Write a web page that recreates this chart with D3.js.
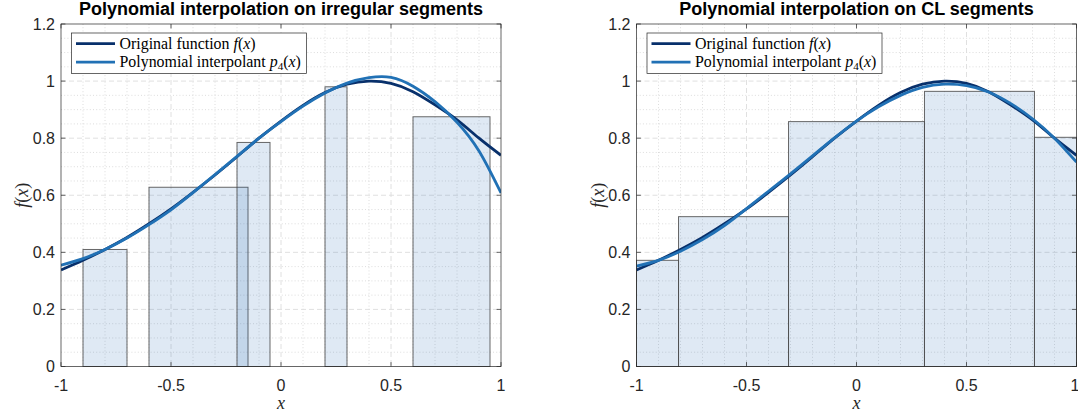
<!DOCTYPE html>
<html>
<head>
<meta charset="utf-8">
<script src="https://cdn.jsdelivr.net/npm/d3@7"></script>
<style>
  html, body { margin: 0; padding: 0; background: #fff; }
  svg { display: block; }
</style>
</head>
<body>
<svg id="fig" width="1078" height="413"></svg>
<script>
const xSamples = [-1, -0.9, -0.8, -0.7, -0.6, -0.5, -0.4, -0.3, -0.2, -0.1, 0,
  0.1, 0.2, 0.3, 0.4, 0.5, 0.6, 0.7, 0.8, 0.9, 1];
const fValues = [0.338, 0.372, 0.410, 0.452, 0.500, 0.552, 0.610, 0.671, 0.735, 0.800, 0.860,
  0.915, 0.960, 0.989, 1.000, 0.992, 0.963, 0.917, 0.864, 0.800, 0.740];
const p4Irregular = [0.355, 0.378, 0.410, 0.450, 0.497, 0.549, 0.609, 0.672, 0.736, 0.800, 0.858,
  0.912, 0.958, 0.993, 1.012, 1.013, 0.982, 0.928, 0.856, 0.755, 0.608];
const p4CL = [0.352, 0.372, 0.404, 0.445, 0.494, 0.553, 0.614, 0.675, 0.738, 0.801, 0.860,
  0.910, 0.950, 0.978, 0.989, 0.984, 0.962, 0.922, 0.868, 0.800, 0.716];

// segments (left/right edge) and bar heights
const irregularLeft = [-0.9, -0.6, -0.2, 0.2, 0.6];
const irregularRight = [-0.7, -0.15, -0.05, 0.3, 0.95];
const irregularHeights = [0.41, 0.628, 0.785, 0.98, 0.875];
const clNodes = [-1, -0.809, -0.309, 0.309, 0.809, 1];
const clHeights = [0.372, 0.525, 0.858, 0.964, 0.803];

const xTicks = [-1, -0.5, 0, 0.5, 1];
const xTickLabels = ['-1', '-0.5', '0', '0.5', '1'];
const yTicks = [0, 0.2, 0.4, 0.6, 0.8, 1, 1.2];
const yTickLabels = ['0', '0.2', '0.4', '0.6', '0.8', '1', '1.2'];

const titles = ['Polynomial interpolation on irregular segments',
  'Polynomial interpolation on CL segments'];

var axisColor = '#262626',
  fColor = '#08306b',
  pColor = '#2171b5',
  barFill = '#1a66b0',
  serif = '"Liberation Serif", "DejaVu Serif", serif',
  sans = '"Liberation Sans", Arial, sans-serif';

var svg = d3.select('#fig');

function panel(opts) {
  var margin = { left: opts.left, top: 24 },
    width = 440,
    height = 342.5;

  var x = d3.scaleLinear().domain([-1, 1]).range([0, width]);
  var y = d3.scaleLinear().domain([0, 1.2]).range([height, 0]);

  var g = svg.append('g')
    .attr('transform', 'translate(' + margin.left + ',' + margin.top + ')');

  var clipId = 'clip' + opts.id;
  g.append('clipPath').attr('id', clipId)
    .append('rect').attr('width', width).attr('height', height);

  // minor grid (dotted)
  var grid = g.append('g');
  grid.selectAll('line.xminor')
    .data(d3.range(-9, 10).map(function(i) { return i / 10; })
      .filter(function(v) { return Math.abs(v * 2 - Math.round(v * 2)) > 1e-6; }))
    .enter().append('line')
    .attr('x1', function(d) { return x(d); }).attr('x2', function(d) { return x(d); })
    .attr('y1', 0).attr('y2', height)
    .attr('stroke', '#d4d4d4').attr('stroke-width', 0.8)
    .attr('stroke-dasharray', '1,2.2');
  grid.selectAll('line.yminor')
    .data(d3.range(1, 24).map(function(i) { return i * 0.05; })
      .filter(function(v, i) { return (i + 1) % 4 !== 0; }))
    .enter().append('line')
    .attr('y1', function(d) { return y(d); }).attr('y2', function(d) { return y(d); })
    .attr('x1', 0).attr('x2', width)
    .attr('stroke', '#d4d4d4').attr('stroke-width', 0.8)
    .attr('stroke-dasharray', '1,2.2');

  // major grid (dashed)
  grid.selectAll('line.xmajor')
    .data(xTicks.slice(1, -1))
    .enter().append('line')
    .attr('x1', function(d) { return x(d); }).attr('x2', function(d) { return x(d); })
    .attr('y1', 0).attr('y2', height)
    .attr('stroke', '#dcdcdc').attr('stroke-width', 0.9)
    .attr('stroke-dasharray', '5,3');
  grid.selectAll('line.ymajor')
    .data(yTicks.slice(1, -1))
    .enter().append('line')
    .attr('y1', function(d) { return y(d); }).attr('y2', function(d) { return y(d); })
    .attr('x1', 0).attr('x2', width)
    .attr('stroke', '#dcdcdc').attr('stroke-width', 0.9)
    .attr('stroke-dasharray', '5,3');

  // bars
  g.append('g').selectAll('rect')
    .data(opts.bars)
    .enter().append('rect')
    .attr('x', function(d) { return x(d.x0); })
    .attr('width', function(d) { return x(d.x1) - x(d.x0); })
    .attr('y', function(d) { return y(d.h); })
    .attr('height', function(d) { return y(0) - y(d.h); })
    .attr('fill', barFill).attr('fill-opacity', 0.14)
    .attr('stroke', '#4d4d4d').attr('stroke-opacity', 0.85).attr('stroke-width', 1);

  // curves
  var line = d3.line()
    .x(function(d) { return x(d[0]); })
    .y(function(d) { return y(d[1]); })
    .curve(d3.curveNatural);

  var curves = g.append('g').attr('clip-path', 'url(#' + clipId + ')');
  curves.append('path')
    .datum(d3.zip(xSamples, fValues))
    .attr('d', line).attr('fill', 'none')
    .attr('stroke', fColor).attr('stroke-width', 2.8);
  curves.append('path')
    .datum(d3.zip(xSamples, opts.p4))
    .attr('d', line).attr('fill', 'none')
    .attr('stroke', pColor).attr('stroke-width', 2.8);

  // box + ticks
  var axes = g.append('g');
  axes.append('rect')
    .attr('width', width).attr('height', height)
    .attr('fill', 'none').attr('stroke', axisColor).attr('stroke-width', 0.7);
  var tl = 4.4;
  xTicks.forEach(function(t) {
    axes.append('line').attr('x1', x(t)).attr('x2', x(t)).attr('y1', height).attr('y2', height - tl)
      .attr('stroke', axisColor).attr('stroke-width', 0.7);
    axes.append('line').attr('x1', x(t)).attr('x2', x(t)).attr('y1', 0).attr('y2', tl)
      .attr('stroke', axisColor).attr('stroke-width', 0.7);
  });
  yTicks.forEach(function(t) {
    axes.append('line').attr('y1', y(t)).attr('y2', y(t)).attr('x1', 0).attr('x2', tl)
      .attr('stroke', axisColor).attr('stroke-width', 0.7);
    axes.append('line').attr('y1', y(t)).attr('y2', y(t)).attr('x1', width).attr('x2', width - tl)
      .attr('stroke', axisColor).attr('stroke-width', 0.7);
  });

  // tick labels
  axes.selectAll('text.xt')
    .data(xTicks)
    .enter().append('text')
    .attr('x', function(d) { return x(d); })
    .attr('dx', function(d, i) { return opts.id === 2 && i === xTicks.length - 1 ? -1.5 : 0; })
    .attr('y', height + 24)
    .attr('text-anchor', 'middle')
    .attr('font-family', sans).attr('font-size', 16).attr('fill', axisColor)
    .text(function(d, i) { return xTickLabels[i]; });
  axes.selectAll('text.yt')
    .data(yTicks)
    .enter().append('text')
    .attr('x', -6)
    .attr('y', function(d) { return y(d) + 5.5; })
    .attr('text-anchor', 'end')
    .attr('font-family', sans).attr('font-size', 16).attr('fill', axisColor)
    .text(function(d, i) { return yTickLabels[i]; });

  // axis labels
  g.append('text')
    .attr('x', width / 2).attr('y', height + 42)
    .attr('text-anchor', 'middle')
    .attr('font-family', serif).attr('font-style', 'italic').attr('font-size', 18)
    .attr('fill', axisColor)
    .text('x');
  var yl = g.append('text')
    .attr('transform', 'translate(' + (-33) + ',' + (height / 2) + ') rotate(-90)')
    .attr('text-anchor', 'middle')
    .attr('font-family', serif).attr('font-size', 18).attr('fill', axisColor);
  yl.append('tspan').attr('font-style', 'italic').text('f');
  yl.append('tspan').text('(');
  yl.append('tspan').attr('font-style', 'italic').text('x');
  yl.append('tspan').text(')');

  // title
  g.append('text')
    .attr('x', width / 2).attr('y', -8.6)
    .attr('text-anchor', 'middle')
    .attr('font-family', sans).attr('font-weight', 'bold').attr('font-size', 18)
    .attr('fill', '#000')
    .text(opts.title);

  // legend
  var lg = g.append('g').attr('transform', 'translate(10.5,9)');
  lg.append('rect')
    .attr('width', 235).attr('height', 40.5)
    .attr('fill', '#fff').attr('stroke', axisColor).attr('stroke-width', 0.7);
  var rows = [
    { color: fColor, parts: [['Original function ', 'normal'], ['f', 'italic'], ['(', 'normal'], ['x', 'italic'], [')', 'normal']] },
    { color: pColor, parts: [['Polynomial interpolant ', 'normal'], ['p', 'italic'], ['4', 'sub'], ['(', 'up'], ['x', 'italic'], [')', 'normal']] }
  ];
  var texts = [];
  rows.forEach(function(r, i) {
    var yy = 10.7 + i * 18.5;
    lg.append('line')
      .attr('x1', 4.5).attr('x2', 43.5).attr('y1', yy).attr('y2', yy)
      .attr('stroke', r.color).attr('stroke-width', 2.8);
    var t = lg.append('text')
      .attr('x', 48).attr('y', yy + 5)
      .attr('font-family', serif).attr('font-size', 16).attr('fill', '#000');
    r.parts.forEach(function(p) {
      var ts = t.append('tspan').text(p[0]);
      if (p[1] === 'italic') ts.attr('font-style', 'italic');
      if (p[1] === 'sub') ts.attr('class', 'sub').attr('dy', 3);
      if (p[1] === 'up') ts.attr('dy', -3);
    });
    texts.push(t);
  });
  // Computer Modern is wider than the available serif: size to the reference width
  var w = texts[1].node().getComputedTextLength();
  var fs = 16 * 184 / w;
  texts.forEach(function(t) {
    t.attr('font-size', fs);
    t.selectAll('tspan.sub').attr('font-size', fs * 0.7);
  });
}

function toBars(lefts, rights, heights) {
  return heights.map(function(h, i) { return { x0: lefts[i], x1: rights[i], h: h }; });
}

panel({
  id: 1,
  left: 61,
  title: titles[0],
  p4: p4Irregular,
  bars: toBars(irregularLeft, irregularRight, irregularHeights)
});
panel({
  id: 2,
  left: 636.5,
  title: titles[1],
  p4: p4CL,
  bars: toBars(clNodes.slice(0, -1), clNodes.slice(1), clHeights)
});
</script>
</body>
</html>
